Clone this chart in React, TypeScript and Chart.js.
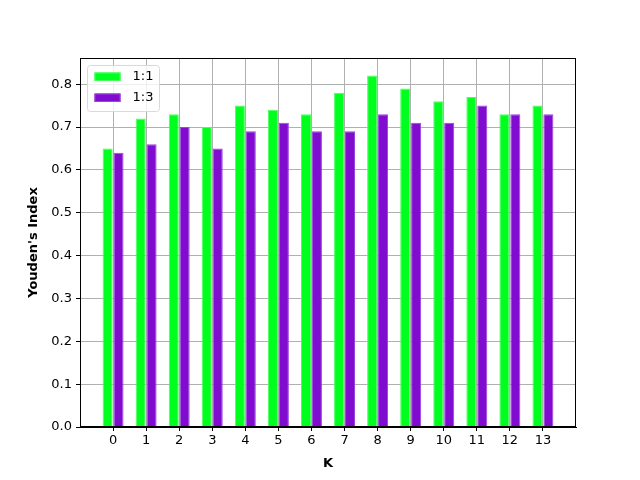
import React, { useEffect, useRef } from "react";
import { Chart, registerables } from "chart.js";

Chart.register(...registerables);

const kValues = [0, 1, 2, 3, 4, 5, 6, 7, 8, 9, 10, 11, 12, 13];
const ratio11 = [0.65, 0.72, 0.73, 0.70, 0.75, 0.74, 0.73, 0.78, 0.82, 0.79, 0.76, 0.77, 0.73, 0.75];
const ratio13 = [0.64, 0.66, 0.70, 0.65, 0.69, 0.71, 0.69, 0.69, 0.73, 0.71, 0.71, 0.75, 0.73, 0.73];
const seriesLabels = ["1:1", "1:3"];
const yTicks = [0, 0.1, 0.2, 0.3, 0.4, 0.5, 0.6, 0.7, 0.8];

const GREEN = "#00ff1e";
const GREEN_EDGE = "#4dff5e";
const PURPLE = "#800ccf";
const PURPLE_EDGE = "#9a45dc";
const FONT = "'DejaVu Sans', sans-serif";

const legendPlugin = {
  id: "innerLegend",
  afterDraw(chart: any) {
    const { ctx, chartArea } = chart;
    const x0 = chartArea.left + 7.5;
    const y0 = chartArea.top + 7.5;
    const w = 72;
    const h = 46;
    ctx.save();
    ctx.beginPath();
    const r = 3;
    ctx.moveTo(x0 + r, y0);
    ctx.lineTo(x0 + w - r, y0);
    ctx.quadraticCurveTo(x0 + w, y0, x0 + w, y0 + r);
    ctx.lineTo(x0 + w, y0 + h - r);
    ctx.quadraticCurveTo(x0 + w, y0 + h, x0 + w - r, y0 + h);
    ctx.lineTo(x0 + r, y0 + h);
    ctx.quadraticCurveTo(x0, y0 + h, x0, y0 + h - r);
    ctx.lineTo(x0, y0 + r);
    ctx.quadraticCurveTo(x0, y0, x0 + r, y0);
    ctx.closePath();
    ctx.fillStyle = "rgba(255,255,255,0.8)";
    ctx.fill();
    ctx.strokeStyle = "#d9d9d9";
    ctx.lineWidth = 1;
    ctx.stroke();
    chart.data.datasets.forEach((ds: any, i: number) => {
      const ry = y0 + 7 + i * 21;
      ctx.fillStyle = ds.backgroundColor;
      ctx.fillRect(x0 + 7, ry, 26, 8.5);
      ctx.strokeStyle = ds.borderColor;
      ctx.strokeRect(x0 + 7.5, ry + 0.5, 25, 7.5);
      ctx.fillStyle = "#000";
      ctx.font = `13px ${FONT}`;
      ctx.textBaseline = "middle";
      ctx.textAlign = "left";
      ctx.fillText(ds.label, x0 + 45, ry + 4.5);
    });
    ctx.restore();
  },
};

export default function App() {
  const ref = useRef<HTMLCanvasElement>(null);
  useEffect(() => {
    document.body.style.margin = "0";
    const chart = new Chart(ref.current!, {
      type: "bar",
      data: {
        datasets: [
          {
            label: seriesLabels[0],
            data: kValues.map((k, i) => ({ x: k, y: ratio11[i] })),
            backgroundColor: GREEN,
            borderColor: GREEN_EDGE,
            borderWidth: 1,
            categoryPercentage: 0.66,
            barPercentage: 0.92,
          },
          {
            label: seriesLabels[1],
            data: kValues.map((k, i) => ({ x: k, y: ratio13[i] })),
            backgroundColor: PURPLE,
            borderColor: PURPLE_EDGE,
            borderWidth: 1,
            categoryPercentage: 0.66,
            barPercentage: 0.92,
          },
        ],
      },
      options: {
        animation: false,
        responsive: false,
        maintainAspectRatio: false,
        layout: { padding: { left: 0, top: 58, right: 64, bottom: 0 } },
        plugins: { legend: { display: false }, tooltip: { enabled: false } },
        scales: {
          x: {
            type: "linear",
            min: -1,
            max: 14,
            offset: false,
            afterFit: (s: any) => {
              s.height = 53;
            },
            afterBuildTicks: (s: any) => {
              s.ticks = kValues.map((v) => ({ value: v }));
            },
            grid: {
              offset: false,
              color: "#b0b0b0",
              lineWidth: 1,
              drawTicks: true,
              tickLength: 4,
              tickColor: "#000",
            },
            border: { color: "#000", width: 1 },
            ticks: {
              color: "#000",
              font: { family: FONT, size: 13 },
              padding: 2,
              maxRotation: 0,
              autoSkip: false,
            },
            title: {
              display: true,
              text: "K",
              color: "#000",
              font: { family: FONT, size: 13, weight: "bold" },
              padding: { top: 0, bottom: 9 },
            },
          },
          y: {
            min: 0,
            max: 0.861,
            afterFit: (s: any) => {
              s.width = 80;
            },
            afterBuildTicks: (s: any) => {
              s.ticks = yTicks.map((v) => ({ value: v }));
            },
            grid: {
              color: "#b0b0b0",
              lineWidth: 1,
              drawTicks: true,
              tickLength: 4,
              tickColor: "#000",
            },
            border: { color: "#000", width: 1 },
            ticks: {
              color: "#000",
              font: { family: FONT, size: 13 },
              padding: 4,
              callback: (v: any) => Number(v).toFixed(1),
            },
            title: {
              display: true,
              text: "Youden's Index",
              color: "#000",
              font: { family: FONT, size: 13, weight: "bold" },
              padding: { top: 26, bottom: 0 },
            },
          },
        },
      },
      plugins: [
        legendPlugin,
        {
          id: "frame",
          afterDraw(chart: any) {
            const { ctx, chartArea } = chart;
            ctx.save();
            ctx.strokeStyle = "#000";
            ctx.lineWidth = 1;
            ctx.strokeRect(
              Math.round(chartArea.left) + 0.5,
              Math.round(chartArea.top) + 0.5,
              Math.round(chartArea.right - chartArea.left) - 1,
              Math.round(chartArea.bottom - chartArea.top) - 1
            );
            ctx.restore();
          },
        },
      ],
    } as any);
    return () => chart.destroy();
  }, []);
  return (
    <div style={{ position: "absolute", left: 0, top: 0, width: 640, height: 480, background: "#fff" }}>
      <canvas ref={ref} width={640} height={480} />
    </div>
  );
}
